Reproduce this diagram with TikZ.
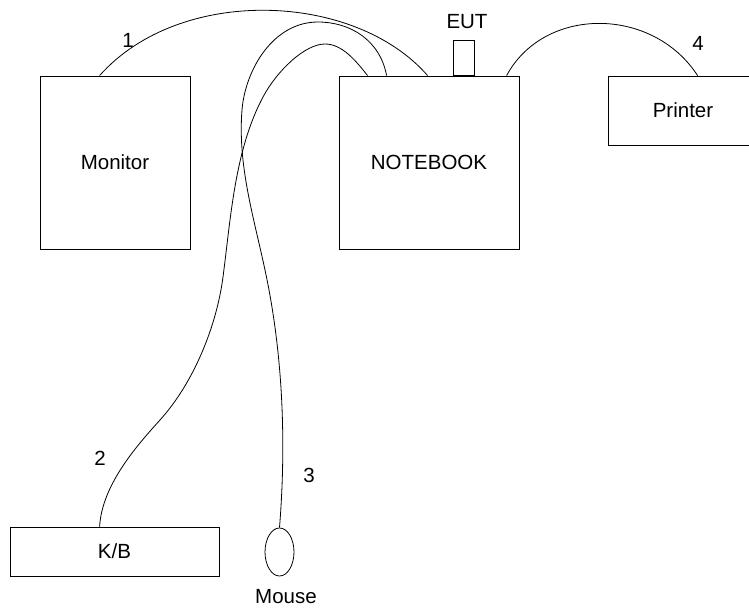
\documentclass[tikz,border=0pt]{standalone}
\usepackage{fontspec}
\setmainfont{Liberation Sans}
\usetikzlibrary{shapes.geometric}
\begin{document}
\begin{tikzpicture}[x=1pt,y=-1pt,
  every node/.style={font=\fontsize{20.5}{24}\selectfont},
  unit/.style={draw, line width=0.8pt, inner sep=0pt},
  cable/.style={draw, line width=0.8pt},
  tag/.style={inner sep=0pt}]
\useasboundingbox (0,0) rectangle (749,608);

% equipment
\node[unit, minimum width=150pt, minimum height=173pt] (monitor) at (115,162.5) {Monitor};
\node[unit, minimum width=180pt, minimum height=173pt] (notebook) at (429,162.5) {NOTEBOOK};
\node[unit, minimum width=21pt, minimum height=35pt, anchor=south] (eut) at (463.5,76) {};
\node[unit, minimum width=150pt, minimum height=69pt] (printer) at (683,110.5) {Printer};
\node[unit, minimum width=209pt, minimum height=49pt] (kb) at (114.5,551.5) {K/B};
\node[unit, ellipse, minimum width=29pt, minimum height=48pt] (mouse) at (279.5,552) {};

% labels
\node[tag] (eutlabel) at (467,22) {EUT};
\node[tag] (mouselabel) at (286,597) {Mouse};
\node[tag] (n1) at (128,40) {1};
\node[tag] (n2) at (100,458) {2};
\node[tag] (n3) at (309,475) {3};
\node[tag] (n4) at (698,43) {4};

% cable 1: monitor to notebook
\draw[cable] ([xshift=60pt]monitor.north west)
  .. controls (180,-15) and (355,-8) .. ([xshift=89pt]notebook.north west);

% cable 2: keyboard to notebook
\draw[cable] ([xshift=90pt]kb.north west)
  .. controls (102,485) and (136.5,446) .. (160,420)
  .. controls (193.5,383) and (216.5,326.5) .. (223,277)
  .. controls (230.8,217.6) and (234.8,149.8) .. (263,97)
  .. controls (277,70.6) and (305,44) .. (325,44)
  .. controls (342,44) and (355.6,60.4) .. ([xshift=29pt]notebook.north west);

% cable 3: mouse to notebook
\draw[cable] (mouse.north)
  .. controls (286.4,442) and (282.9,353.3) .. (265,270)
  .. controls (253.5,216.1) and (237.6,165) .. (242,110)
  .. controls (245.2,70) and (273,22) .. (318,22)
  .. controls (350,22) and (380,40) .. ([xshift=48pt]notebook.north west);

% cable 4: notebook to printer
\draw[cable] ([xshift=168pt]notebook.north west)
  .. controls (544,6) and (652.5,6) .. ([xshift=90pt]printer.north west);
\end{tikzpicture}
\end{document}
